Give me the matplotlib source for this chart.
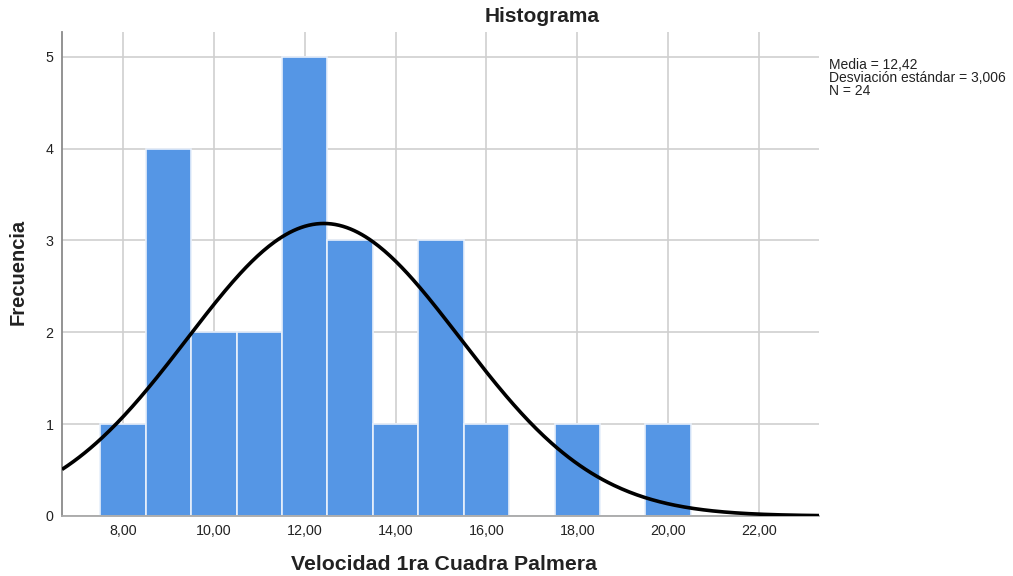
import numpy as np
import matplotlib
matplotlib.use("Agg")
import matplotlib.pyplot as plt

plt.rcParams["font.family"] = ["Liberation Sans", "DejaVu Sans"]

# bin centres (width 1) and frequencies
bin_centers = [8, 9, 10, 11, 12, 13, 14, 15, 16, 17, 18, 19, 20]
counts = [1, 4, 2, 2, 5, 3, 1, 3, 1, 0, 1, 0, 1]
mean, sd, n = 12.42, 3.006, 24
bin_width = 1.0

xticks = [8, 10, 12, 14, 16, 18, 20, 22]
xtick_labels = ["8,00", "10,00", "12,00", "14,00", "16,00", "18,00", "20,00", "22,00"]
yticks = [0, 1, 2, 3, 4, 5]

fig = plt.figure(figsize=(10.13, 5.76), dpi=100)
ax = fig.add_axes([0.0612, 0.1042, 0.7473, 0.8402])
ax.set_xlim(6.656, 23.32)
ax.set_ylim(0, 5.27)

ax.bar(bin_centers, counts, width=bin_width, color="#5596e5",
       edgecolor="#e8f0fb", linewidth=1.2, zorder=2)

xs = np.linspace(6.656, 23.32, 400)
pdf = n * bin_width / (sd * np.sqrt(2 * np.pi)) * np.exp(-0.5 * ((xs - mean) / sd) ** 2)
ax.plot(xs, pdf, color="black", lw=2.6, zorder=3, solid_capstyle="butt")

ax.set_xticks(xticks)
ax.set_xticklabels(xtick_labels)
ax.set_yticks(yticks)
ax.tick_params(length=0, labelsize=10.3, pad=6, colors="#222222")
ax.grid(True, color="#cfcfcf", lw=1.2, zorder=0)
ax.set_axisbelow(True)
for s in ("top", "right"):
    ax.spines[s].set_visible(False)
ax.spines["left"].set_color("#8a8a8a")
ax.spines["left"].set_linewidth(1.3)
ax.spines["bottom"].set_color("#a8a8a8")
ax.spines["bottom"].set_linewidth(1.3)

fig.text(542 / 1013, 1 - 16 / 576, "Histograma", ha="center", va="center",
         fontsize=15, fontweight="bold", color="#222222")
fig.text(444 / 1013, 1 - 565 / 576, "Velocidad 1ra Cuadra Palmera", ha="center",
         va="center", fontsize=15.3, fontweight="bold", color="#222222")
fig.text(18 / 1013, 1 - 272 / 576, "Frecuencia", ha="center", va="center",
         rotation=90, fontsize=14.5, fontweight="bold", color="#222222")
fig.text(829 / 1013, 1 - 58 / 576,
         "Media = 12,42\nDesviación estándar = 3,006\nN = 24",
         ha="left", va="top", fontsize=10, linespacing=0.93, color="#222222")

fig.savefig("out.png", dpi=100)
